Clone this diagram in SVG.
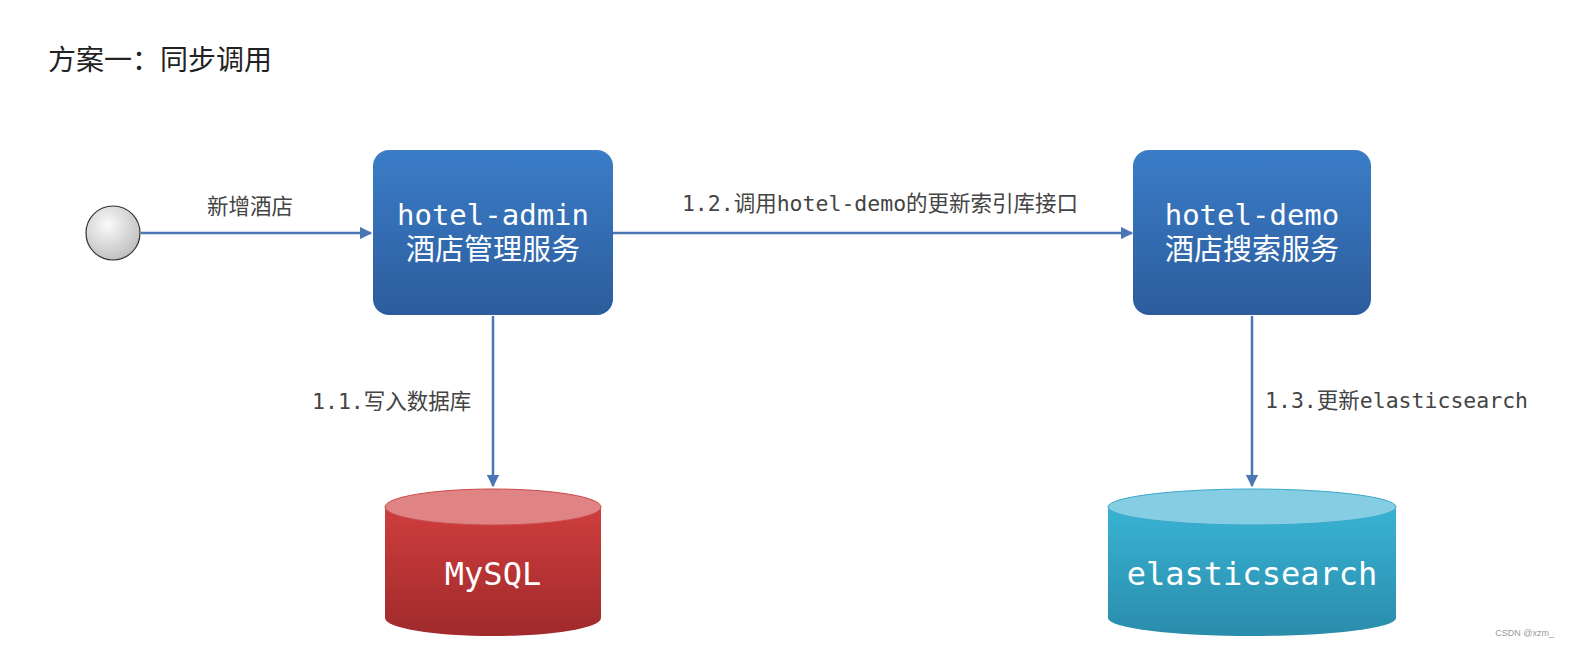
<svg xmlns="http://www.w3.org/2000/svg" width="1569" height="647" viewBox="0 0 1569 647">
<defs>
<linearGradient id="gb" x1="0" y1="0" x2="0" y2="1"><stop offset="0" stop-color="#3b7dc8"/><stop offset="1" stop-color="#2c5c9c"/></linearGradient>
<linearGradient id="gr" x1="0" y1="0" x2="0" y2="1"><stop offset="0" stop-color="#cf3d3d"/><stop offset="1" stop-color="#a02a2c"/></linearGradient>
<linearGradient id="gc" x1="0" y1="0" x2="0" y2="1"><stop offset="0" stop-color="#39b3d4"/><stop offset="1" stop-color="#2a8cab"/></linearGradient>
<radialGradient id="gs" cx="0.4" cy="0.35" r="0.7"><stop offset="0" stop-color="#fafafa"/><stop offset="1" stop-color="#bdbdbd"/></radialGradient>
<marker id="ar" viewBox="0 0 10 10" refX="9" refY="5" markerWidth="5" markerHeight="5" orient="auto"><path d="M0,0L10,5L0,10z" fill="#4a76b6"/></marker>
</defs>
<style>
.cn{font-family:"Noto Sans CJK SC",sans-serif}
.m{font-family:"DejaVu Sans Mono","Noto Sans CJK SC",monospace}
.lbl{font-size:21.5px;fill:#444}
.nt{font-size:29px;fill:#fff}
.db{font-size:32px;fill:#fff}
.ln{stroke:#4a76b6;stroke-width:2.5;fill:none;marker-end:url(#ar)}
</style>
<rect width="1569" height="647" fill="#fff"/>
<text x="48" y="70" class="cn" font-size="28" fill="#222">方案一：同步调用</text>
<g id="connectors">
<line class="ln" x1="141" y1="233" x2="371" y2="233"/>
<line class="ln" x1="613" y1="233" x2="1132" y2="233"/>
<line class="ln" x1="493" y1="316" x2="493" y2="486"/>
<line class="ln" x1="1252" y1="316" x2="1252" y2="486"/>
<text x="250" y="214" text-anchor="middle" class="m lbl">新增酒店</text>
<text x="880" y="211" text-anchor="middle" class="m lbl">1.2.调用hotel-demo的更新索引库接口</text>
<text x="312" y="409" class="m lbl">1.1.写入数据库</text>
<text x="1265" y="408" class="m lbl">1.3.更新elasticsearch</text>
</g>
<g id="start"><circle cx="113" cy="233" r="27" fill="url(#gs)" stroke="#333" stroke-width="1.2"/></g>
<g id="admin"><rect x="373" y="150" width="240" height="165" rx="16" fill="url(#gb)"/>
<text x="493" y="225" text-anchor="middle" class="m nt">hotel-admin</text>
<text x="493" y="260" text-anchor="middle" class="m nt">酒店管理服务</text></g>
<g id="demo"><rect x="1133" y="150" width="238" height="165" rx="16" fill="url(#gb)"/>
<text x="1252" y="225" text-anchor="middle" class="m nt">hotel-demo</text>
<text x="1252" y="260" text-anchor="middle" class="m nt">酒店搜索服务</text></g>
<g id="mysql"><path d="M385,507 V618 A108,18 0 0 0 601,618 V507 z" fill="url(#gr)"/>
<ellipse cx="493" cy="507" rx="108" ry="18" fill="#e08384" stroke="#c94b4b" stroke-width="1"/>
<text x="493" y="585" text-anchor="middle" class="m db">MySQL</text></g>
<g id="es"><path d="M1108,507 V618 A144,18 0 0 0 1396,618 V507 z" fill="url(#gc)"/>
<ellipse cx="1252" cy="507" rx="144" ry="18" fill="#84cde2" stroke="#3aa8c8" stroke-width="1"/>
<text x="1252" y="585" text-anchor="middle" class="m db">elasticsearch</text></g>
<text x="1554" y="636" text-anchor="end" font-family="Liberation Sans,sans-serif" font-size="9" fill="#999">CSDN @xzm_</text>
</svg>
